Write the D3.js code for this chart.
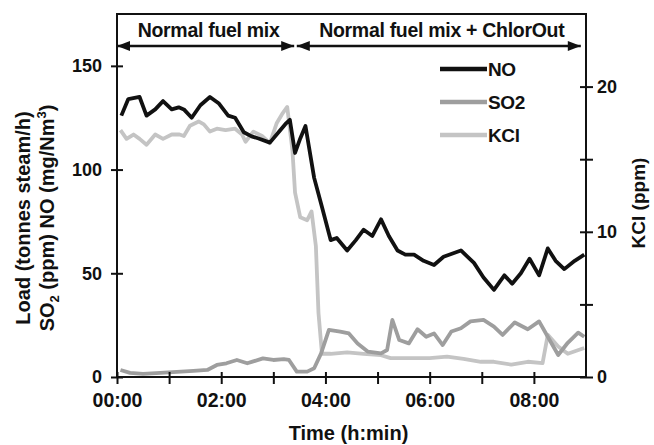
<!DOCTYPE html>
<html lang="en">
<head>
    <meta charset="UTF-8">
    <title>NO, SO2 and KCl over time</title>
    <script src="https://cdnjs.cloudflare.com/ajax/libs/d3/7.8.5/d3.min.js"></script>
    <style>
        body {
            margin: 0;
            background-color: white;
        }

        svg text {
            font-family: "Liberation Sans", Arial, sans-serif;
            font-weight: bold;
            fill: #111;
        }

        .series {
            fill: none;
            stroke-width: 3.8px;
            stroke-linejoin: round;
        }
    </style>
</head>
<body>
    <svg id="chart"></svg>

    <script>
        const width = 654;
        const height = 445;

        // time in minutes from start
        const noTime = [5, 13, 26, 34, 44, 53, 63, 71, 77, 86, 96, 107, 117, 128, 136, 146, 155, 163, 176, 186, 194, 199, 205, 211, 217, 227, 236, 246, 253, 265, 275, 284, 294, 304, 313, 323, 332, 342, 353, 365, 376, 396, 411, 422, 434, 446, 455, 465, 475, 486, 496, 505, 515, 527, 538];
        const noValues = [126, 134, 135, 126, 129, 133, 129, 130, 129, 125, 131, 135, 132, 126, 125, 118, 116, 115, 113, 118, 122, 124, 108, 115, 121, 96, 82, 66, 67, 61, 66, 71, 68, 76, 68, 61, 59, 59, 56, 54, 58, 61, 55, 48, 42, 49, 45, 50, 57, 49, 62, 56, 52, 56, 59];

        const so2Time = [4, 15, 30, 50, 69, 88, 104, 115, 126, 138, 150, 156, 168, 180, 192, 198, 207, 219, 227, 235, 244, 257, 267, 277, 289, 304, 311, 317, 325, 336, 346, 356, 365, 375, 385, 396, 407, 422, 434, 444, 458, 473, 486, 496, 508, 519, 531, 538];
        const so2Values = [3.4, 2, 1.5, 2, 2.5, 3, 3.4, 5.8, 6.6, 8.2, 6.6, 7.4, 9, 8.2, 8.6, 8.2, 2.6, 2.6, 4.2, 11.4, 22.7, 21.9, 21, 16.2, 12.2, 11.4, 13, 27.5, 17.8, 16.2, 23, 19.4, 21, 15.4, 21.9, 23.5, 26.8, 27.5, 24.3, 20.3, 26.3, 23, 26.8, 19.4, 10.6, 16.5, 21.4, 19.4];

        // KCl in ppm (right axis)
        const kclTime = [4, 11, 19, 26, 34, 44, 53, 63, 72, 77, 84, 94, 100, 107, 115, 125, 136, 144, 148, 157, 167, 176, 184, 190, 196, 202, 205, 211, 219, 224, 229, 232, 236, 246, 265, 284, 304, 315, 342, 360, 380, 399, 419, 434, 454, 473, 490, 496, 508, 519, 538];
        const kclValues = [17.0, 16.4, 16.7, 16.4, 16.0, 16.7, 16.4, 16.7, 16.7, 16.6, 17.3, 17.6, 17.4, 16.9, 17.1, 17.0, 17.1, 16.7, 16.2, 16.9, 16.6, 16.1, 17.5, 18.1, 18.6, 15.6, 12.7, 11.0, 10.8, 11.4, 9.0, 4.4, 1.6, 1.6, 1.7, 1.6, 1.5, 1.3, 1.3, 1.3, 1.4, 1.25, 1.05, 1.05, 0.85, 1.05, 0.95, 2.9, 2.1, 1.6, 2.0];

        const leftTicks = [0, 50, 100, 150];
        const rightTicks = [0, 5, 10, 15, 20];
        const rightLabels = [0, 10, 20];
        const timeTicks = [0, 60, 120, 180, 240, 300, 360, 420, 480];
        const timeLabels = [0, 120, 240, 360, 480];

        const phaseLabels = ["Normal fuel mix", "Normal fuel mix + ChlorOut"];
        const phaseStart = [0, 207];
        const phaseEnd = [204, 534];

        const legendNames = ["NO", "SO2", "KCl"];
        const legendColors = ["#111", "#9e9e9e", "#c4c4c4"];

        let svg = d3.select("#chart")
            .attr("width", width)
            .attr("height", height);

        const x = d3.scaleLinear().domain([0, 540]).range([117, 586]);
        const yLeft = d3.scaleLinear().domain([0, 175]).range([377, 14]);
        const yRight = d3.scaleLinear().domain([0, 25]).range([377, 14]);

        const fmt = m => d3.format("02d")(Math.floor(m / 60)) + ":" + d3.format("02d")(m % 60);

        // series lines
        function drawLine(times, values, yScale, color) {
            const pts = times.map((t, i) => [t, values[i]]);
            svg.append("path")
                .attr("class", "series")
                .attr("stroke", color)
                .attr("d", d3.line().x(d => x(d[0])).y(d => yScale(d[1]))(pts));
        }
        drawLine(kclTime, kclValues, yRight, legendColors[2]);
        drawLine(so2Time, so2Values, yLeft, legendColors[1]);
        drawLine(noTime, noValues, yLeft, legendColors[0]);

        // axes
        const axisLeft = svg.append("g")
            .attr("transform", "translate(" + x(0) + ",0)")
            .call(d3.axisLeft(yLeft).tickValues(leftTicks).tickSize(6).tickPadding(9));

        const axisRight = svg.append("g")
            .attr("transform", "translate(" + x(540) + ",0)")
            .call(d3.axisRight(yRight).tickValues(rightTicks).tickSize(7).tickPadding(4)
                .tickFormat(d => rightLabels.includes(d) ? d : ""));

        const axisBottom = svg.append("g")
            .attr("transform", "translate(0," + yLeft(0) + ")")
            .call(d3.axisBottom(x).tickValues(timeTicks).tickSize(7).tickPadding(9)
                .tickFormat(d => timeLabels.includes(d) ? fmt(d) : ""));

        [axisLeft, axisRight, axisBottom].forEach(g => {
            g.select(".domain").remove();
            g.selectAll("line").attr("stroke", "#111").attr("stroke-width", 2);
            g.selectAll("text").attr("font-size", 18).attr("fill", "#111");
        });
        axisBottom.selectAll("text").attr("font-size", 19.5);
        // ticks crossing the axis
        axisLeft.selectAll("line").attr("x2", -6).attr("x1", 6);
        axisRight.selectAll("line").attr("x1", -6);
        axisBottom.selectAll("line").attr("y1", -5);

        // frame
        svg.append("path")
            .attr("d", "M" + x(0) + "," + yLeft(0) + "V" + yLeft(175) + "H" + x(540) + "V" + yLeft(0) + "Z")
            .attr("fill", "none")
            .attr("stroke", "#111")
            .attr("stroke-width", 2);

        // phase arrows
        const arrowY = 46;
        function arrowHead(tipX, dir) {
            const len = 13, hw = 5;
            return "M" + tipX + "," + arrowY + "L" + (tipX - dir * len) + "," + (arrowY - hw) +
                "L" + (tipX - dir * len) + "," + (arrowY + hw) + "Z";
        }
        phaseLabels.forEach((label, i) => {
            const x0 = x(phaseStart[i]), x1 = x(phaseEnd[i]);
            svg.append("line")
                .attr("x1", x0).attr("x2", x1)
                .attr("y1", arrowY).attr("y2", arrowY)
                .attr("stroke", "#111").attr("stroke-width", 2.5);
            svg.append("path").attr("d", arrowHead(x0, -1)).attr("fill", "#111");
            svg.append("path").attr("d", arrowHead(x1, 1)).attr("fill", "#111");
            svg.append("text")
                .attr("x", (x0 + x1) / 2 + 3)
                .attr("y", 37)
                .attr("text-anchor", "middle")
                .attr("font-size", 19.5)
                .attr("letter-spacing", -0.3)
                .text(label);
        });

        // legend
        legendNames.forEach((name, i) => {
            const ly = 69 + i * 33;
            svg.append("line")
                .attr("x1", 440).attr("x2", 487)
                .attr("y1", ly).attr("y2", ly)
                .attr("stroke", legendColors[i]).attr("stroke-width", 4.5);
            svg.append("text")
                .attr("x", 488).attr("y", ly + 7)
                .attr("font-size", 19)
                .attr("letter-spacing", -0.4)
                .text(name);
        });

        // axis titles
        svg.append("text")
            .attr("x", x(270) - 3).attr("y", 440)
            .attr("text-anchor", "middle")
            .attr("font-size", 20)
            .text("Time (h:min)");

        const leftTitle = svg.append("text")
            .attr("transform", "translate(30,218) rotate(-90)")
            .attr("text-anchor", "middle")
            .attr("font-size", 20);
        leftTitle.append("tspan").attr("x", 0).attr("y", 0).text("Load (tonnes steam/h)");
        const line2 = leftTitle.append("tspan").attr("x", 0).attr("y", 24);
        line2.append("tspan").text("SO");
        line2.append("tspan").attr("font-size", 13).attr("dy", 5).text("2");
        line2.append("tspan").attr("dy", -5).text(" (ppm) NO (mg/Nm");
        line2.append("tspan").attr("font-size", 13).attr("dy", -8).text("3");
        line2.append("tspan").attr("dy", 8).text(")");

        svg.append("text")
            .attr("transform", "translate(645,203) rotate(-90)")
            .attr("text-anchor", "middle")
            .attr("font-size", 19)
            .text("KCl (ppm)");
    </script>
</body>
</html>
